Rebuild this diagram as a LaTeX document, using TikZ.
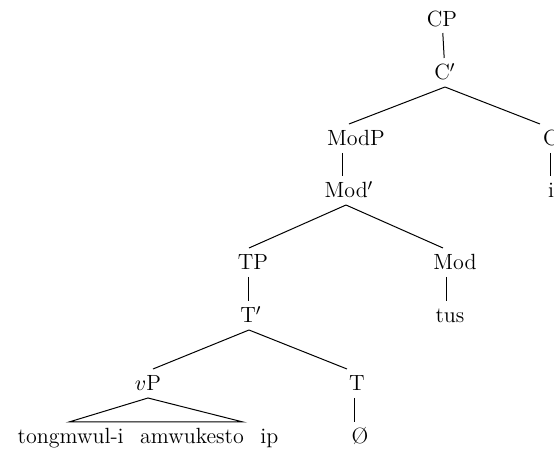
\documentclass[tikz,border=0pt]{standalone}
\usepackage{tikz}
\usetikzlibrary{positioning}

\begin{document}
\begin{tikzpicture}[
    x=0.5pt, y=-0.5pt,
    node distance=26pt,
    font=\fontsize{11}{13}\selectfont,
    cat/.style={
		text height=7.5pt,
		text depth=0pt,
		inner sep=0pt,
		outer sep=3.5pt
	},
	branch/.style={
		line width=0.5pt
	}
  ]
  \useasboundingbox (0,0) rectangle (554,455);

    % the labels, top down

  \node [cat] (cp) at (442,18.5) {CP};
  \node [cat, below of=cp, node distance=27pt, xshift=1.5pt] (cbar) {C$'$};

  \node [cat, below of=cbar, node distance=33pt, xshift=-44.5pt] (modp) {ModP};
  \node [cat, below of=cbar, node distance=33pt, xshift=53pt] (c) {C};
  \node [cat, below of=modp, xshift=-3.5pt] (modbar) {Mod$'$};
  \node [cat, below of=c] (i) {i};

  \node [cat, below of=modbar, node distance=36pt, xshift=-48pt] (tp) {TP};
  \node [cat, below of=modbar, node distance=36pt, xshift=53pt] (mod) {Mod};
  \node [cat, below of=tp, node distance=26.5pt, xshift=-1pt] (tbar) {T$'$};
  \node [cat, below of=mod, node distance=26.5pt, xshift=-2.5pt] (tus) {tus};

  \node [cat, below of=tbar, node distance=34pt, xshift=-51.5pt] (vp) {$v$P};
  \node [cat, below of=tbar, node distance=34pt, xshift=53pt] (t) {T};
  \node [cat, below of=vp, node distance=26.5pt] (words)
 {tongmwul-i\hspace{0.75em}amwukesto\hspace{0.75em}ip};
  \node [cat, below of=t, node distance=26.5pt, xshift=1.5pt] (null) {\O};

    % the branches

 \draw [branch] (cp) -- (cbar);
 \draw [branch] (cbar.south) -- ([xshift=-3.5pt]modp.north);
 \draw [branch] (cbar.south) -- ([xshift=-5.5pt]c.north);
 \draw [branch] (c) -- (i);
 \draw [branch] ([xshift=-6.5pt]modp.south) -- ([xshift=-3pt]modbar.north);
 \draw [branch] ([xshift=-1.5pt]modbar.south) -- ([xshift=-2pt]tp.north);
 \draw [branch] ([xshift=-1.5pt]modbar.south) -- ([xshift=-6pt]mod.north);
 \draw [branch] ([xshift=-2pt]tp.south) -- ([xshift=-1pt]tbar.north);
 \draw [branch] ([xshift=-4pt]mod.south) -- ([xshift=-1.5pt]tus.north);
 \draw [branch] ([xshift=-1pt]tbar.south) -- ([xshift=2.5pt]vp.north);
 \draw [branch] ([xshift=-1pt]tbar.south) -- ([xshift=-5pt]t.north);
 \draw [branch] ([xshift=-1pt]t.south) -- ([xshift=-2.5pt]null.north);
 \draw [branch] (vp.south) -- ([xshift=-39.5pt]words.north)
   -- ([xshift=47.5pt]words.north) -- cycle;

\end{tikzpicture}
\end{document}
